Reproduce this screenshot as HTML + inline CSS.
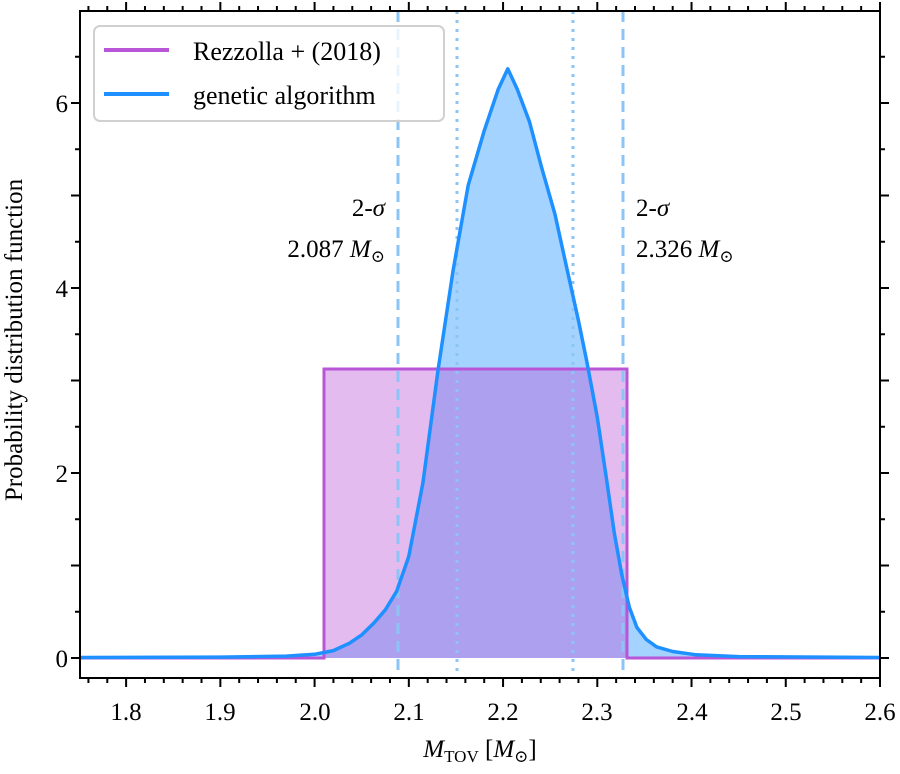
<!DOCTYPE html>
<html><head><style>
html,body{margin:0;padding:0;background:#fff;}
svg text{font-family:"Liberation Serif","DejaVu Serif",serif;fill:#000;}
</style></head><body>
<svg id="s" width="900" height="769" viewBox="0 0 900 769" xmlns="http://www.w3.org/2000/svg">
<defs><clipPath id="c"><rect x="80" y="11" width="800" height="667"/></clipPath></defs>
<g clip-path="url(#c)">
<path id="fillp" fill="rgba(30,144,255,0.4)" d=""/>
<rect x="324" y="369" width="303" height="289" fill="rgba(184,86,215,0.4)"/>
<polyline points="79,658 324,658 324,369 627,369 627,658 880,658" fill="none" stroke="#b856d7" stroke-width="3"/>
<line x1="398" y1="11" x2="398" y2="678" stroke="#8cc5f5" stroke-width="3" stroke-dasharray="11,7"/>
<line x1="623" y1="11" x2="623" y2="678" stroke="#8cc5f5" stroke-width="3" stroke-dasharray="11,7"/>
<line x1="457" y1="11" x2="457" y2="678" stroke="#8cc5f5" stroke-width="3" stroke-dasharray="3,6"/>
<line x1="573" y1="11" x2="573" y2="678" stroke="#8cc5f5" stroke-width="3" stroke-dasharray="3,6"/>
<polyline id="curve" fill="none" stroke="#1e90ff" stroke-width="3.5" stroke-linejoin="round" points=""/>
</g>
<rect x="80" y="11" width="800" height="667" fill="none" stroke="#000" stroke-width="2"/>
<g id="ticks" stroke="#000"></g>
<g font-size="25">
<text x="68" y="667" text-anchor="end">0</text>
<text x="68" y="482" text-anchor="end">2</text>
<text x="68" y="297" text-anchor="end">4</text>
<text x="68" y="112" text-anchor="end">6</text>
<text x="126" y="720" text-anchor="middle">1.8</text>
<text x="220" y="720" text-anchor="middle">1.9</text>
<text x="315" y="720" text-anchor="middle">2.0</text>
<text x="409" y="720" text-anchor="middle">2.1</text>
<text x="503" y="720" text-anchor="middle">2.2</text>
<text x="597" y="720" text-anchor="middle">2.3</text>
<text x="692" y="720" text-anchor="middle">2.4</text>
<text x="786" y="720" text-anchor="middle">2.5</text>
<text x="880" y="720" text-anchor="middle">2.6</text>
<text x="480" y="757" text-anchor="middle"><tspan font-style="italic">M</tspan><tspan font-size="17" dy="5">TOV</tspan><tspan dy="-5"> [</tspan><tspan font-style="italic">M</tspan><tspan font-size="17" dy="5">⊙</tspan><tspan dy="-5">]</tspan></text>
<text transform="translate(22,340) rotate(-90)" text-anchor="middle">Probability distribution function</text>
<text x="385" y="216" text-anchor="end">2-<tspan font-style="italic">σ</tspan></text>
<text x="385" y="257" text-anchor="end">2.087 <tspan font-style="italic">M</tspan><tspan font-size="17" dy="5">⊙</tspan></text>
<text x="636" y="216">2-<tspan font-style="italic">σ</tspan></text>
<text x="636" y="257">2.326 <tspan font-style="italic">M</tspan><tspan font-size="17" dy="5">⊙</tspan></text>
</g>
<rect x="94" y="26" width="350" height="95" rx="6" fill="rgba(255,255,255,0.8)" stroke="#d0d0d0" stroke-width="2"/>
<line x1="104" y1="50" x2="169" y2="50" stroke="#b856d7" stroke-width="4"/>
<line x1="104" y1="94" x2="169" y2="94" stroke="#1e90ff" stroke-width="4"/>
<text x="193" y="60" font-size="26">Rezzolla + (2018)</text>
<text x="193" y="104" font-size="26">genetic algorithm</text>
</svg>
<script>
function X(v){return 79+(v-1.75)*942.35;}
function Y(v){return 658-v*92.5;}
var d=[[1.75,0.005],[1.9,0.01],[1.97,0.02],[2.0,0.04],[2.02,0.08],[2.037,0.16],[2.05,0.25],[2.063,0.38],[2.075,0.52],[2.087,0.72],[2.1,1.1],[2.115,1.9],[2.131,3.11],[2.147,4.19],[2.163,5.11],[2.18,5.7],[2.195,6.15],[2.205,6.37],[2.215,6.15],[2.228,5.8],[2.241,5.3],[2.255,4.8],[2.268,4.2],[2.28,3.65],[2.289,3.2],[2.3,2.6],[2.31,1.92],[2.318,1.35],[2.326,0.9],[2.334,0.55],[2.342,0.33],[2.352,0.2],[2.363,0.12],[2.38,0.07],[2.405,0.035],[2.45,0.015],[2.6,0.005]];
var pts=d.map(function(p){return X(p[0]).toFixed(1)+","+Y(p[1]).toFixed(1);});
document.getElementById('curve').setAttribute('points',pts.join(' '));
document.getElementById('fillp').setAttribute('d','M'+X(1.75)+','+Y(0)+' L'+pts.join(' L')+' L'+X(2.6)+','+Y(0)+'Z');
var t='';
for(var i=0;i<=42;i++){var v=1.76+i*0.02;var x=X(v);var maj=Math.abs((v*10)-Math.round(v*10))<1e-6;var L=maj?9:5;
t+='<line x1="'+x+'" y1="678" x2="'+x+'" y2="'+(678+L)+'" stroke-width="2"/>';
t+='<line x1="'+x+'" y1="11" x2="'+x+'" y2="'+(11-L)+'" stroke-width="2"/>';}
for(var j=0;j<=13;j++){var v=j*0.5;var y=Y(v);var maj=j%2==0;var L=maj?9:5;
t+='<line x1="80" y1="'+y+'" x2="'+(80-L)+'" y2="'+y+'" stroke-width="2"/>';
t+='<line x1="880" y1="'+y+'" x2="'+(880+L)+'" y2="'+y+'" stroke-width="2"/>';}
document.getElementById('ticks').innerHTML=t;
</script>
</body></html>
